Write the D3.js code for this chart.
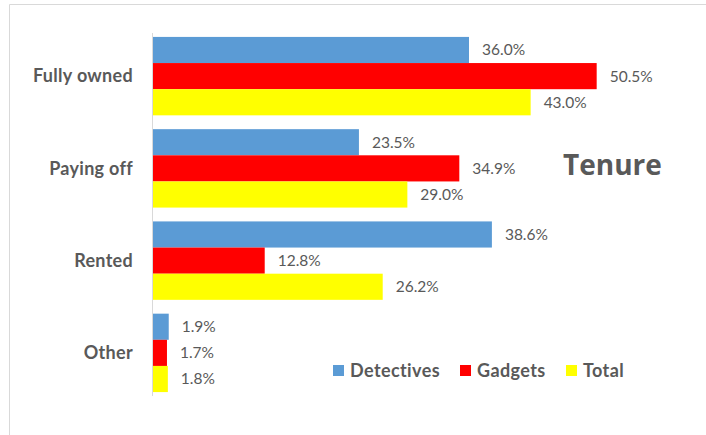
<!DOCTYPE html>
<html>
<head>
<meta charset="utf-8">
<script src="https://cdn.jsdelivr.net/npm/d3@7"></script>
<style>
  body { margin: 0; background: #fff; }
  text { font-family: Lato, "Open Sans", sans-serif; fill: #595959; }
</style>
</head>
<body>
<div id="container"></div>
<script>
// chart data
let categories = ["Fully owned", "Paying off", "Rented", "Other"];
let seriesNames = ["Detectives", "Gadgets", "Total"];
let detectives = [36.0, 23.5, 38.6, 1.9];
let gadgets = [50.5, 34.9, 12.8, 1.7];
let total = [43.0, 29.0, 26.2, 1.8];
let colors = ["#5b9bd5", "#ff0000", "#ffff00"];

let w = 706, h = 435;
let svg = d3.select("#container").append("svg")
    .attr("width", w).attr("height", h);

// outer frame (only top and left are visible in the screenshot)
svg.append("path")
    .attr("d", "M9.5," + h + "V4.5H" + w)
    .attr("fill", "none").attr("stroke", "#d9d9d9");

let x = d3.scaleLinear().domain([0, 36]).range([152, 469]);
let y = d3.scaleBand().domain(categories).range([30, 399])
    .paddingInner(0.15).paddingOuter(0.075);
let ySub = d3.scaleBand().domain(seriesNames).range([0, y.bandwidth()]);

let rows = categories.map((c, i) => ({
    cat: c,
    vals: [detectives[i], gadgets[i], total[i]]
}));

let groups = svg.selectAll("g.cat")
    .data(rows).enter().append("g")
    .attr("class", "cat")
    .attr("transform", d => "translate(0," + y(d.cat) + ")");

let bars = groups.selectAll("g.bar")
    .data(d => d.vals.map((v, j) => ({name: seriesNames[j], v: v, j: j})))
    .enter().append("g").attr("class", "bar");

bars.append("rect")
    .attr("x", x(0))
    .attr("y", d => ySub(d.name))
    .attr("width", d => x(d.v) - x(0))
    .attr("height", ySub.bandwidth())
    .attr("fill", d => colors[d.j]);

bars.append("text")
    .attr("x", d => x(d.v) + 13)
    .attr("y", d => ySub(d.name) + ySub.bandwidth() / 2)
    .attr("dy", "0.35em")
    .style("font-size", "15.5px")
    .text(d => d.v.toFixed(1) + "%");

// category axis
svg.append("line")
    .attr("x1", x(0) + 0.5).attr("x2", x(0) + 0.5)
    .attr("y1", 33).attr("y2", 396)
    .attr("stroke", "#d9d9d9");

svg.selectAll("text.cat-label")
    .data(categories).enter().append("text")
    .attr("class", "cat-label")
    .attr("x", 133)
    .attr("y", d => y(d) + y.bandwidth() / 2)
    .attr("dy", "0.35em")
    .attr("text-anchor", "end")
    .style("font-size", "18px").style("font-weight", "bold")
    .style("letter-spacing", "0.3px")
    .text(d => d);

// title
svg.append("text")
    .attr("x", 563).attr("y", 165).attr("dy", "0.35em")
    .style("font-family", "'Open Sans', sans-serif")
    .style("font-size", "28px").style("font-weight", "bold")
    .text("Tenure");

// legend
let legendX = [333, 460, 566];
let lg = svg.selectAll("g.legend")
    .data(seriesNames).enter().append("g")
    .attr("class", "legend")
    .attr("transform", (d, i) => "translate(" + legendX[i] + ",371)");
lg.append("rect")
    .attr("x", 0).attr("y", -6).attr("width", 11).attr("height", 11)
    .attr("fill", (d, i) => colors[i]);
lg.append("text")
    .attr("x", 17).attr("dy", "0.35em")
    .style("font-size", "18px").style("font-weight", "bold")
    .style("letter-spacing", "0.4px")
    .text(d => d);
</script>
</body>
</html>
